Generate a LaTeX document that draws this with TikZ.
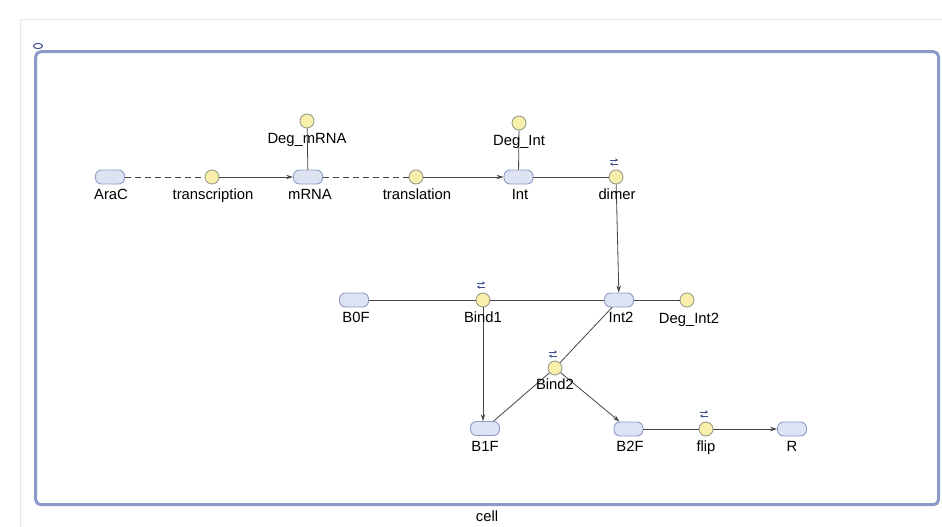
\documentclass[tikz,border=0pt]{standalone}
\usepackage{fontspec}
\setmainfont{Liberation Sans}
\usetikzlibrary{arrows.meta}
\definecolor{specfill}{HTML}{DDE3F3}
\definecolor{specdraw}{HTML}{8E9BC6}
\definecolor{reacfill}{HTML}{F8F0AA}
\definecolor{reacdraw}{HTML}{9C9C8C}
\definecolor{cellc}{HTML}{8C99C8}
\definecolor{edgec}{HTML}{454545}
\definecolor{iconc}{HTML}{3A4C8C}
\definecolor{faint}{HTML}{E6E6E6}
\tikzset{
  species/.style={draw=specdraw, fill=specfill, line width=0.9pt, rounded corners=6pt,
    minimum width=29pt, minimum height=14pt, inner sep=0pt},
  reaction/.style={draw=reacdraw, fill=reacfill, line width=0.9pt, circle,
    minimum size=14pt, inner sep=0pt},
  lbl/.style={anchor=base, inner sep=0pt, font=\fontsize{14.8}{17}\selectfont, text=black},
  link/.style={draw=edgec, line width=0.8pt},
  dlink/.style={link, dash pattern=on 6pt off 4pt},
  arr/.style={link, -{Stealth[length=7pt,width=4.5pt]}},
  revicon/.pic={
    \draw[iconc, line width=0.9pt, -{Stealth[length=2.8pt,width=3.4pt]}] (-4,-2) -- (4,-2);
    \draw[iconc, line width=0.9pt, -{Stealth[length=2.8pt,width=3.4pt]}] (4,2) -- (-4,2);
  }
}
\begin{document}
\begin{tikzpicture}[x=1pt,y=-1pt]
\useasboundingbox (0,0) rectangle (942,527);
% faint frame
\draw[faint, line width=0.8pt] (20,527) -- (20,19) -- (942,19);
% cell compartment
\draw[cellc, line width=3pt, rounded corners=5pt] (35.7,51.7) rectangle (938.5,504.7);
\draw[iconc, line width=1pt] (38,46) ellipse [x radius=4.5, y radius=2.6];
\node[lbl] (celllbl) at (487,521) {cell};

% species
\node[species] (AraC) at (110,177) {};
\node[species] (mRNA) at (308,177) {};
\node[species] (Int) at (518.5,177) {};
\node[species] (Int2) at (619,300) {};
\node[species] (B0F) at (354,300) {};
\node[species] (B1F) at (485,428.5) {};
\node[species] (B2F) at (628.5,429) {};
\node[species] (R) at (792,429) {};

% reactions
\node[reaction] (transcription) at (212,177) {};
\node[reaction] (DegmRNA) at (307,121) {};
\node[reaction] (translation) at (416,177) {};
\node[reaction] (DegInt) at (519,123) {};
\node[reaction] (dimer) at (616,177) {};
\node[reaction] (DegInt2) at (687,300) {};
\node[reaction] (Bind1) at (483,300) {};
\node[reaction] (Bind2) at (555,368) {};
\node[reaction] (flip) at (706,429) {};

% reversible icons
\pic at (614,162) {revicon};
\pic at (481,285) {revicon};
\pic at (553,354) {revicon};
\pic at (704,414) {revicon};

% edges
\draw[dlink] (AraC) -- (transcription);
\draw[arr] (transcription) -- (mRNA);
\draw[dlink] (mRNA) -- (translation);
\draw[arr] (translation) -- (Int);
\draw[link] (DegmRNA) -- (mRNA);
\draw[link] (DegInt) -- (Int);
\draw[link] (Int) -- (dimer);
\draw[arr] (dimer) -- (Int2);
\draw[link] (B0F) -- (Bind1);
\draw[link] (Bind1) -- (Int2);
\draw[link] (Int2) -- (DegInt2);
\draw[arr] (Bind1) -- (Bind1 |- B1F.north);
\draw[link] (Int2) -- (Bind2);
\draw[link] (B1F) -- (Bind2);
\draw[arr] (Bind2) -- (B2F);
\draw[link] (B2F) -- (flip);
\draw[arr] (flip) -- (R);

% labels
\node[lbl] (AraCl) at (111,199) {AraC};
\node[lbl] (transcriptionl) at (213,199) {transcription};
\node[lbl] (mRNAl) at (310,199) {mRNA};
\node[lbl] (DegmRNAl) at (307,143) {Deg\_mRNA};
\node[lbl] (translationl) at (417,199) {translation};
\node[lbl] (Intl) at (520,199) {Int};
\node[lbl] (DegIntl) at (519,145) {Deg\_Int};
\node[lbl] (dimerl) at (617,199) {dimer};
\node[lbl] (B0Fl) at (356,322.5) {B0F};
\node[lbl] (Bind1l) at (483,322) {Bind1};
\node[lbl] (Int2l) at (621,322.5) {Int2};
\node[lbl] (DegInt2l) at (689,323) {Deg\_Int2};
\node[lbl] (Bind2l) at (555,389) {Bind2};
\node[lbl] (B1Fl) at (485,451) {B1F};
\node[lbl] (B2Fl) at (630,451) {B2F};
\node[lbl] (flipl) at (706,451) {flip};
\node[lbl] (Rl) at (792,451) {R};
\end{tikzpicture}
\end{document}
